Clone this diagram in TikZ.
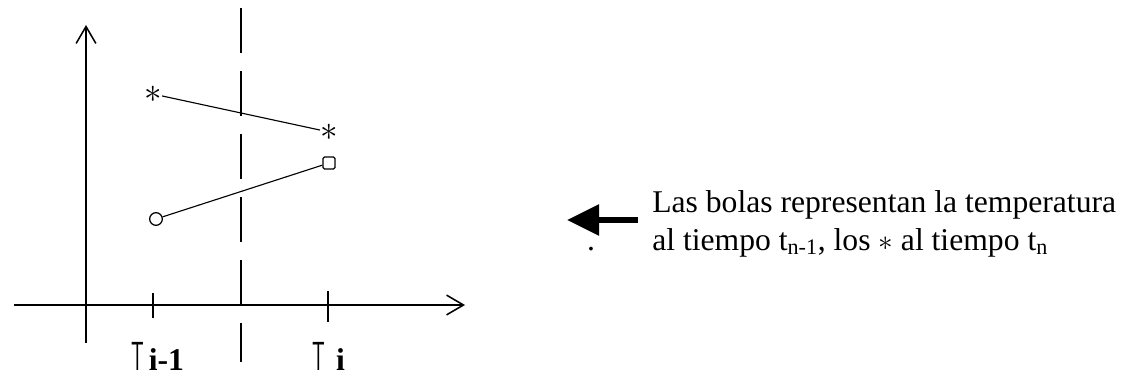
\documentclass[tikz,border=0pt]{standalone}
\usepackage{fontspec}
\setmainfont{Liberation Serif}
\usepackage{graphicx}
\usepackage{tikz}
\usetikzlibrary{arrows.meta}
\newcommand{\letraT}{\resizebox{9pt}{20pt}{\sffamily T}}

\begin{document}
\begin{tikzpicture}[x=0.025cm, y=-0.025cm,
			eje/.style={line width=1.2pt, -{Straight Barb[length=12pt, width=14pt, line width=1.1pt]}},
			marca/.style={line width=1.2pt},
			frontera/.style={line width=1.2pt, dash pattern=on 1.125cm off 0.45cm},
			bola/.style={draw, circle, line width=0.9pt, minimum size=9pt, inner sep=0pt},
			caja/.style={draw, rectangle, rounded corners=1pt, line width=0.9pt, minimum size=8.5pt, inner sep=0pt},
			asterisco/.style={inner sep=0pt, font=\fontsize{30}{30}\selectfont},
			union/.style={line width=0.8pt},
			etiqueta/.style={anchor=base west, inner sep=0pt, font=\fontsize{22.5}{27}\selectfont}]
			%%%%% START %%%%%
			
			\useasboundingbox (0, 0) rectangle (1125, 381);
			
			% ejes
			\draw[eje] (86, 343) -- (86, 25);
			\draw[eje] (14, 305) -- (465, 305);
			\draw[marca] (153, 293) -- (153, 318);
			\draw[marca] (328, 291) -- (328, 322);
			\draw[frontera] (241, 8) -- (241, 362);
			
			% temperaturas
			\node[asterisco] (e1) at (153, 94) {$\ast$};
			\node[asterisco] (e2) at (329, 132) {$\ast$};
			\node[bola] (b1) at (156, 219) {};
			\node[caja] (c2) at (329, 163) {};
			\draw[union] (e1) -- (e2);
			\draw[union] (b1) -- (c2);
			
			\node[etiqueta] (ti1) at (131, 370) {\letraT\hspace{3.5pt}\textbf{i-1}};
			\node[etiqueta] (ti) at (312, 370) {\letraT\hspace{8pt}\textbf{i}};
			
			% nota
			\coordinate (cola) at (638, 220);
			\coordinate (punta) at (567, 220);
			\draw[line width=4.3pt, -{Triangle[length=22.8pt, width=21.3pt]}] (cola) -- (punta);
			\node[etiqueta, anchor=base] (punto) at (591, 250) {.};
			\node[etiqueta, align=left] (nota) at (652, 250) {Las bolas representan la temperatura\\al tiempo t\textsubscript{n-1}, los $\ast$ al tiempo t\textsubscript{n}};
			
			%%%%% END %%%%%
		\end{tikzpicture}
\end{document}
